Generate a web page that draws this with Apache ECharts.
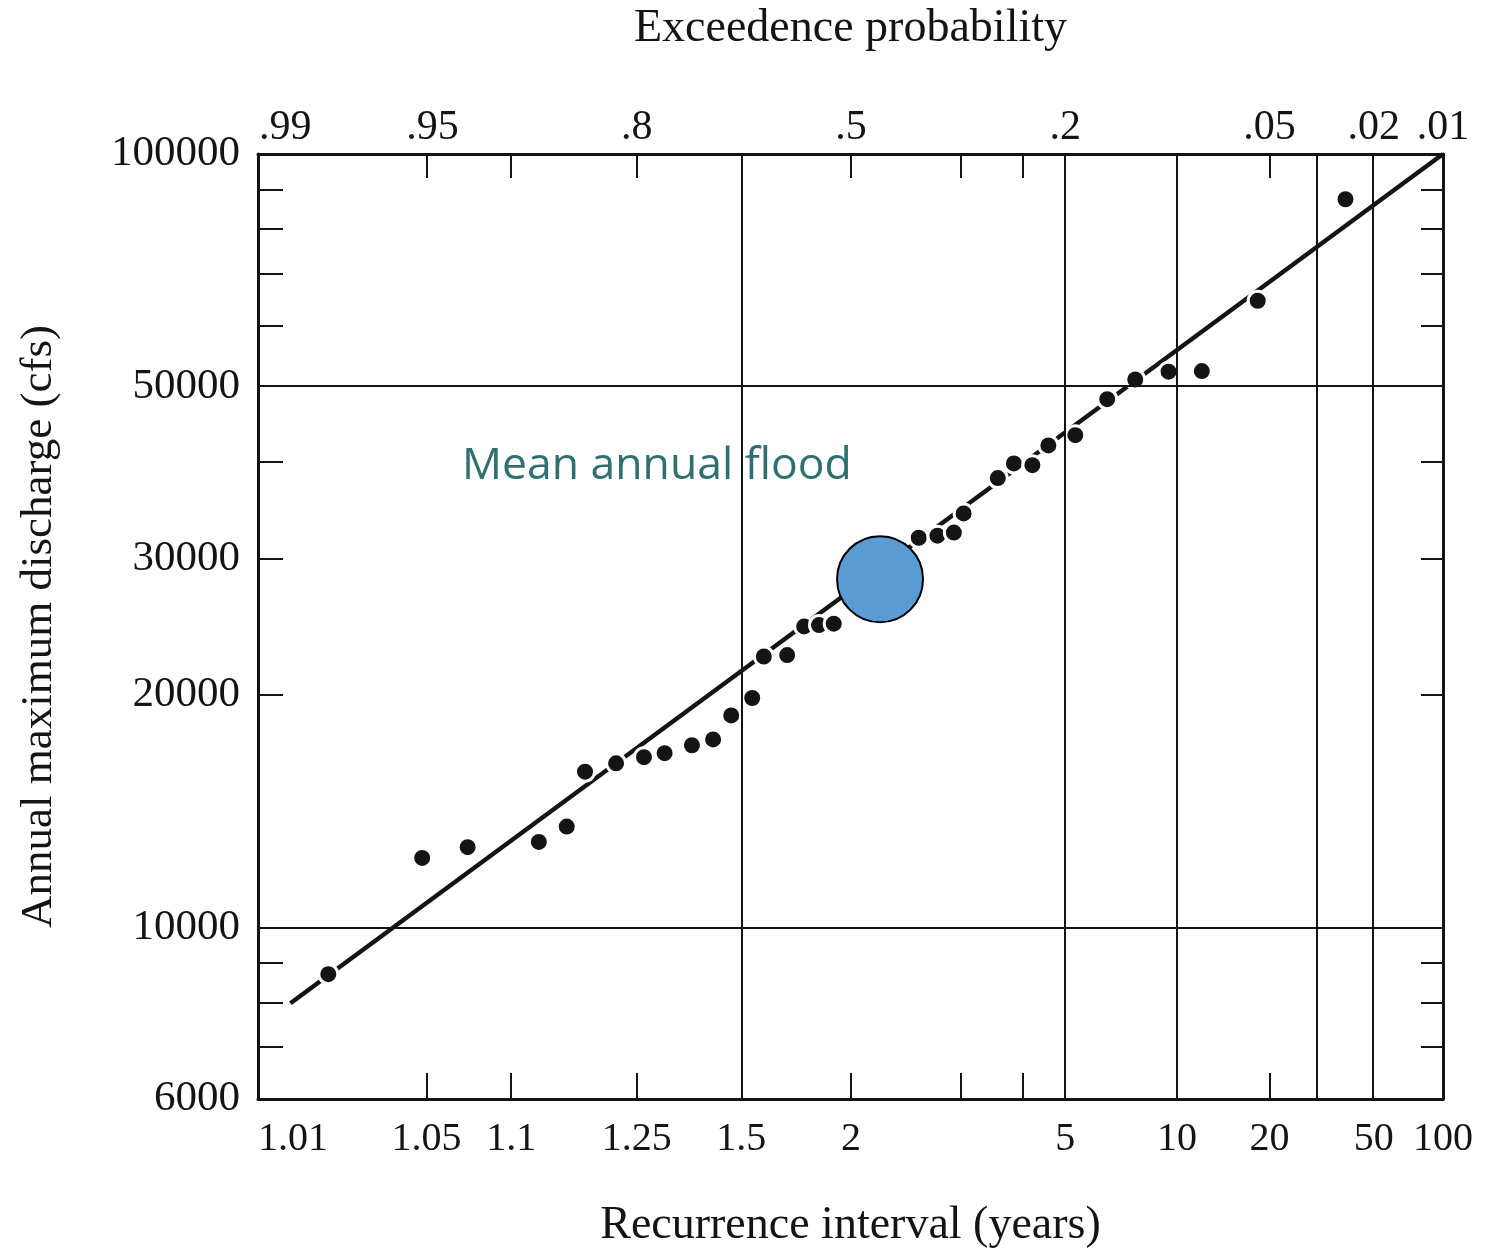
<!DOCTYPE html>
<html>
<head>
<meta charset="utf-8">
<title>Annual maximum discharge</title>
<script src="https://cdn.jsdelivr.net/npm/echarts@6/dist/echarts.min.js"></script>
<style>
  html, body { margin: 0; padding: 0; background: #fff; }
  #chart { width: 1494px; height: 1248px; }
</style>
</head>
<body>
<div id="chart"></div>
<script>
// axis ticks / labels
const intervalLabels = [1.01, 1.05, 1.1, 1.25, 1.5, 2, 5, 10, 20, 50, 100]; // recurrence interval (years)
const intervalTicks = [1.05, 1.1, 1.25, 2, 3, 4, 20];
const intervalGrid = [1.5, 5, 10, 30, 50];
const probLabels = [0.99, 0.95, 0.8, 0.5, 0.2, 0.05, 0.02, 0.01]; // exceedence probability
const dischargeLabels = [6000, 10000, 20000, 30000, 50000, 100000];
const dischargeTicks = [7000, 8000, 9000, 20000, 30000, 40000, 60000, 70000, 80000, 90000];
const dischargeGrid = [10000, 50000];

// plotted annual peaks: exceedence probability, discharge (cfs)
const peakProb = [0.980, 0.954, 0.934, 0.890, 0.868, 0.852, 0.822, 0.792, 0.768, 0.734, 0.706,
  0.681, 0.651, 0.634, 0.599, 0.573, 0.550, 0.527, 0.395, 0.367, 0.343, 0.329, 0.282, 0.261,
  0.238, 0.219, 0.189, 0.157, 0.132, 0.106, 0.084, 0.055, 0.026];
const peakQ = [8700, 12300, 12700, 12900, 13500, 15900, 16300, 16600, 16800, 17200, 17500,
  18800, 19800, 22400, 22500, 24500, 24600, 24700, 31900, 32100, 32400, 34300, 38100, 39800,
  39600, 42000, 43300, 48200, 51100, 52300, 52400, 64600, 87400];

// fitted line end points
const fitT = [1.014, 100];
const fitQ = [7980, 100000];

// mean annual flood marker
const meanT = [2.2];
const meanQ = [28200];

// inverse standard normal (Acklam)
function normInv(p) {
  const a = [-3.969683028665376e+01, 2.209460984245205e+02, -2.759285104469687e+02, 1.383577518672690e+02, -3.066479806614716e+01, 2.506628277459239e+00];
  const b = [-5.447609879822406e+01, 1.615858368580409e+02, -1.556989798598866e+02, 6.680131188771972e+01, -1.328068155288572e+01];
  const c = [-7.784894002430293e-03, -3.223964580411365e-01, -2.400758277161838e+00, -2.549732539343734e+00, 4.374664141464968e+00, 2.938163982698783e+00];
  const d = [7.784695709041462e-03, 3.224671290700398e-01, 2.445134137142996e+00, 3.754408661907416e+00];
  const pl = 0.02425;
  let q, r;
  if (p < pl) {
    q = Math.sqrt(-2 * Math.log(p));
    return (((((c[0] * q + c[1]) * q + c[2]) * q + c[3]) * q + c[4]) * q + c[5]) / ((((d[0] * q + d[1]) * q + d[2]) * q + d[3]) * q + 1);
  }
  if (p > 1 - pl) {
    q = Math.sqrt(-2 * Math.log(1 - p));
    return -(((((c[0] * q + c[1]) * q + c[2]) * q + c[3]) * q + c[4]) * q + c[5]) / ((((d[0] * q + d[1]) * q + d[2]) * q + d[3]) * q + 1);
  }
  q = p - 0.5; r = q * q;
  return (((((a[0] * r + a[1]) * r + a[2]) * r + a[3]) * r + a[4]) * r + a[5]) * q / (((((b[0] * r + b[1]) * r + b[2]) * r + b[3]) * r + b[4]) * r + 1);
}
const xOfP = p => normInv(1 - p);   // probability paper position
const xOfT = T => xOfP(1 / T);
const yOfQ = Q => Math.log10(Q);    // log scale

const serif = '"Liberation Serif", "DejaVu Serif", serif';
const ink = '#141414';

function findLabel(list, fn, v) {
  for (const item of list) if (Math.abs(fn(item) - v) < 1e-6) return item;
  return null;
}

const chart = echarts.init(document.getElementById('chart'));
chart.setOption({
  animation: false,
  grid: { left: 258, right: 51, top: 154, bottom: 149, outerBoundsMode: 'none' },
  xAxis: [
    {
      type: 'value', position: 'bottom',
      min: xOfT(1.01), max: xOfT(100),
      name: 'Recurrence interval (years)', nameLocation: 'middle', nameGap: 104,
      nameTextStyle: { fontFamily: serif, fontSize: 46, color: ink },
      axisLine: { onZero: false, lineStyle: { color: ink, width: 3 } },
      axisTick: { inside: true, length: 26, customValues: intervalTicks.map(xOfT), lineStyle: { color: ink, width: 2 } },
      axisLabel: {
        customValues: intervalLabels.map(xOfT), margin: 20, alignMinLabel: 'left',
        fontFamily: serif, fontSize: 40, color: ink,
        formatter: v => { const t = findLabel(intervalLabels, xOfT, v); return t === null ? '' : String(t); }
      },
      splitLine: { show: false }
    },
    {
      type: 'value', position: 'top',
      min: xOfT(1.01), max: xOfT(100),
      name: 'Exceedence probability', nameLocation: 'middle', nameGap: 102,
      nameTextStyle: { fontFamily: serif, fontSize: 46, color: ink },
      axisLine: { onZero: false, lineStyle: { color: ink, width: 3 } },
      axisTick: { inside: true, length: 24, customValues: intervalTicks.map(xOfT), lineStyle: { color: ink, width: 2 } },
      axisLabel: {
        customValues: probLabels.map(xOfP), margin: 5, alignMinLabel: 'left',
        fontFamily: serif, fontSize: 42, color: ink,
        formatter: v => { const p = findLabel(probLabels, xOfP, v); return p === null ? '' : String(p).replace('0.', '.'); }
      },
      splitLine: { show: false }
    }
  ],
  yAxis: [
    {
      type: 'value', position: 'left',
      min: yOfQ(6000), max: yOfQ(100000),
      name: 'Annual maximum discharge (cfs)', nameLocation: 'middle', nameGap: 196, nameRotate: 90,
      nameTextStyle: { fontFamily: serif, fontSize: 45, color: ink },
      axisLine: { show: true, onZero: false, lineStyle: { color: ink, width: 3 } },
      axisTick: { show: true, inside: true, length: 25, customValues: dischargeTicks.map(yOfQ), lineStyle: { color: ink, width: 2 } },
      axisLabel: {
        customValues: dischargeLabels.map(yOfQ), margin: 18,
        fontFamily: serif, fontSize: 43, color: ink,
        formatter: v => String(Math.round(Math.pow(10, v)))
      },
      splitLine: { show: false }
    },
    {
      type: 'value', position: 'right',
      min: yOfQ(6000), max: yOfQ(100000),
      axisLine: { show: true, onZero: false, lineStyle: { color: ink, width: 3 } },
      axisTick: { show: true, inside: true, length: 22, customValues: dischargeTicks.map(yOfQ), lineStyle: { color: ink, width: 2 } },
      axisLabel: { show: false },
      splitLine: { show: false }
    }
  ],
  graphic: [
    {
      type: 'text', left: 462, top: 444, z: 10,
      style: { text: 'Mean annual flood', fontFamily: '"Open Sans", "Noto Sans", sans-serif', fontSize: 44.5, fill: '#2F6F6E' }
    }
  ],
  series: [
    {
      // full-height / full-width grid lines
      type: 'line', data: [], z: 1, silent: true,
      markLine: {
        silent: true, symbol: ['none', 'none'], label: { show: false },
        lineStyle: { color: ink, width: 2, type: 'solid' },
        emphasis: { disabled: true },
        data: intervalGrid.map(T => ({ xAxis: xOfT(T) })).concat(dischargeGrid.map(Q => ({ yAxis: yOfQ(Q) })))
      }
    },
    {
      type: 'line', z: 2, symbol: 'none', silent: true,
      data: fitT.map((T, i) => [xOfT(T), yOfQ(fitQ[i])]),
      lineStyle: { color: ink, width: 4.5 }
    },
    {
      type: 'scatter', z: 3, symbolSize: 19,
      data: peakProb.map((p, i) => [xOfP(p), yOfQ(peakQ[i])]),
      itemStyle: { color: ink, borderColor: '#fff', borderWidth: 3, opacity: 1 }
    },
    {
      type: 'scatter', z: 4, symbolSize: 86,
      data: meanT.map((T, i) => [xOfT(T), yOfQ(meanQ[i])]),
      itemStyle: { color: '#5B9BD5', borderColor: '#000', borderWidth: 2, opacity: 1 }
    }
  ]
});
</script>
</body>
</html>
